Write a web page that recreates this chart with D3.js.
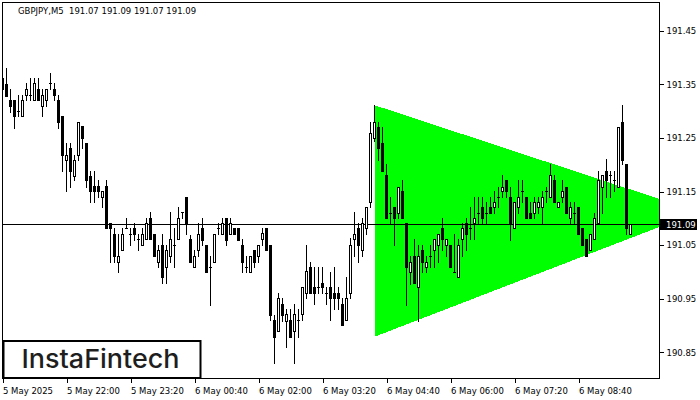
<!DOCTYPE html>
<html><head><meta charset="utf-8">
<script src="https://cdn.jsdelivr.net/npm/d3@7"></script>
<style>
html,body{margin:0;padding:0;background:#fff;}
svg{display:block;}
text{font-family:"DejaVu Sans",sans-serif;}
</style></head><body>
<script>
const symbolLabel = "GBPJPY,M5";
const ohlcLabel = ["191.07","191.09","191.07","191.09"];
const opens = [191.361,191.351,191.321,191.321,191.300,191.290,191.330,191.330,191.321,191.341,
191.310,191.321,191.352,191.341,191.321,191.290,191.209,191.231,191.179,191.219,
191.272,191.240,191.179,191.160,191.160,191.140,191.160,191.091,191.071,191.019,
191.041,191.081,191.071,191.081,191.061,191.050,191.061,191.100,191.071,191.019,
191.050,191.010,191.030,191.050,191.061,191.111,191.140,191.061,191.010,191.041,
191.081,191.050,191.010,191.019,191.081,191.071,191.100,191.071,191.081,191.081,
191.050,191.010,191.000,191.041,191.030,191.061,191.081,191.050,190.910,190.890,
190.940,190.908,190.910,190.890,190.910,190.921,190.960,191.010,190.971,190.971,
190.980,190.960,190.971,190.960,190.960,190.940,190.910,190.960,191.061,191.081,
191.041,191.081,191.130,191.250,191.270,191.240,191.181,191.110,191.121,191.110,
191.150,191.091,191.000,191.030,190.971,191.041,191.010,191.030,191.041,191.050,
191.081,191.050,191.050,191.000,190.990,191.061,191.091,191.081,191.091,191.110,
191.121,191.110,191.121,191.121,191.140,191.150,191.171,191.140,191.081,191.121,
191.150,191.140,191.110,191.110,191.121,191.121,191.150,191.140,191.171,191.121,
191.140,191.159,191.100,191.110,191.121,191.081,191.061,191.041,191.061,191.091,
191.159,191.189,191.181,191.171,191.159,191.280,191.201,191.070];
const highs = [191.371,191.380,191.341,191.321,191.330,191.330,191.352,191.361,191.361,191.361,
191.341,191.341,191.371,191.352,191.330,191.290,191.240,191.240,191.219,191.280,
191.272,191.240,191.189,191.189,191.171,191.150,191.171,191.091,191.081,191.071,
191.081,191.100,191.081,191.091,191.071,191.081,191.100,191.111,191.071,191.050,
191.071,191.050,191.111,191.081,191.121,191.111,191.140,191.069,191.041,191.091,
191.100,191.050,191.030,191.071,191.091,191.100,191.100,191.100,191.081,191.081,
191.061,191.030,191.030,191.041,191.050,191.081,191.081,191.050,190.920,190.960,
190.951,190.931,190.931,190.940,190.931,190.971,191.050,191.019,191.010,191.010,
191.010,190.971,191.000,191.010,190.971,190.951,190.990,191.063,191.112,191.091,
191.100,191.121,191.280,191.311,191.280,191.270,191.201,191.140,191.121,191.159,
191.171,191.091,191.030,191.061,191.050,191.050,191.030,191.050,191.061,191.071,
191.100,191.061,191.050,191.071,191.061,191.091,191.100,191.121,191.140,191.140,
191.140,191.130,191.140,191.150,191.159,191.181,191.171,191.159,191.130,191.171,
191.171,191.140,191.130,191.140,191.140,191.150,191.159,191.201,191.181,191.130,
191.171,191.159,191.130,191.130,191.121,191.081,191.061,191.071,191.110,191.189,
191.181,191.210,191.189,191.189,191.270,191.311,191.201,191.090];
const lows = [191.340,191.328,191.299,191.269,191.290,191.290,191.321,191.321,191.321,191.321,
191.290,191.310,191.341,191.321,191.269,191.189,191.150,191.159,191.171,191.209,
191.231,191.159,191.131,191.131,191.140,191.121,191.081,191.019,191.019,191.000,
191.041,191.081,191.050,191.060,191.041,191.050,191.061,191.061,191.030,191.010,
190.980,190.980,191.019,191.010,191.061,191.100,191.071,191.019,191.010,191.030,
191.050,191.000,190.938,191.019,191.071,191.071,191.050,191.071,191.071,191.060,
191.000,191.000,191.000,191.010,191.019,191.050,191.041,190.910,190.830,190.890,
190.908,190.860,190.879,190.830,190.879,190.910,190.951,190.960,190.940,190.960,
190.960,190.940,190.910,190.931,190.931,190.901,190.910,190.951,191.030,191.019,
191.030,191.071,191.121,191.245,191.209,191.189,191.100,191.091,191.050,191.100,
191.100,190.938,190.978,190.980,190.908,191.000,191.000,191.010,191.010,191.019,
191.041,191.030,191.010,191.000,190.990,191.030,191.041,191.061,191.061,191.091,
191.091,191.091,191.110,191.110,191.121,191.140,191.140,191.060,191.081,191.110,
191.130,191.100,191.100,191.100,191.110,191.091,191.130,191.140,191.130,191.121,
191.130,191.110,191.091,191.091,191.071,191.050,191.030,191.041,191.061,191.091,
191.110,191.140,191.140,191.150,191.159,191.201,191.071,191.070];
const closes = [191.341,191.328,191.310,191.290,191.300,191.321,191.341,191.330,191.352,191.321,
191.330,191.341,191.352,191.330,191.280,191.219,191.219,191.189,191.209,191.280,
191.250,191.171,191.150,191.150,191.150,191.150,191.081,191.081,191.030,191.030,
191.071,191.081,191.071,191.071,191.061,191.071,191.091,191.061,191.030,191.041,
190.990,191.041,191.061,191.050,191.100,191.111,191.091,191.019,191.030,191.071,
191.060,191.000,191.010,191.071,191.081,191.091,191.060,191.091,191.071,191.060,
191.019,191.010,191.030,191.019,191.050,191.072,191.041,190.920,190.879,190.951,
190.920,190.921,190.879,190.921,190.910,190.971,191.001,190.960,190.960,190.971,
190.971,190.960,190.951,190.951,190.951,190.901,190.951,191.050,191.071,191.050,
191.091,191.121,191.260,191.280,191.231,191.189,191.100,191.110,191.100,191.159,
191.100,191.010,191.019,190.980,191.030,191.019,191.019,191.030,191.061,191.071,
191.061,191.061,191.010,191.000,191.050,191.081,191.071,191.081,191.100,191.110,
191.100,191.110,191.110,191.130,191.140,191.159,191.150,191.091,191.130,191.140,
191.150,191.100,191.100,191.130,191.130,191.140,191.150,191.181,191.130,191.130,
191.150,191.110,191.121,191.110,191.071,191.050,191.030,191.071,191.100,191.171,
191.181,191.171,191.181,191.171,191.270,191.209,191.081,191.090];
const xTickIndex = [0,16,32,48,64,80,96,112,128,144];
const xTickLabels = ["5 May 2025","5 May 22:00","5 May 23:20","6 May 00:40","6 May 02:00","6 May 03:20","6 May 04:40","6 May 06:00","6 May 07:20","6 May 08:40"];
const yTickValues = [190.85,190.95,191.05,191.15,191.25,191.35,191.45];
const triangleIdx = [93,93,174];
const trianglePrice = [191.311,190.879,191.112];
const lastPrice = 191.09;
const logoText = "InstaFintech";

const W = 700, H = 400;
const plot = {x0: 2.5, y0: 2.5, x1: 659.5, y1: 378.5};
const svg = d3.select("body").append("svg").attr("width", W).attr("height", H);
const x = d3.scaleLinear().domain([0, 1]).range([2.5, 6.5]);
const y = d3.scaleLinear().domain([190.85, 191.45]).range([352.3, 30.7]);

svg.append("rect").attr("width", W).attr("height", H).attr("fill", "#fff");
svg.append("defs").append("clipPath").attr("id", "pc").append("rect")
  .attr("x", 3).attr("y", 3).attr("width", plot.x1 - 3).attr("height", plot.y1 - 3);
const g = svg.append("g").attr("clip-path", "url(#pc)").attr("shape-rendering", "crispEdges");

// triangle
const triPts = triangleIdx.map((d, i) => [x(d), y(trianglePrice[i])]);
g.append("path").attr("d", d3.line()(triPts) + "Z").attr("fill", "#00ff00");

// bid line
const ly = Math.round(y(lastPrice)) + 0.5;
g.append("line").attr("x1", 3).attr("x2", plot.x1).attr("y1", ly).attr("y2", ly).attr("stroke", "#000");

// candles
const data = opens.map((o, i) => ({i, o, h: highs[i], l: lows[i], c: closes[i]}));
const cg = g.append("g");
data.forEach(d => {
  const xc = x(d.i);
  const yh = Math.round(y(d.h)), yl = Math.round(y(d.l));
  const yo = Math.round(y(d.o)), yc = Math.round(y(d.c));
  const top = Math.min(yo, yc), bot = Math.max(yo, yc);
  cg.append("rect").attr("x", xc - 0.5).attr("y", yh).attr("width", 1).attr("height", Math.max(1, yl - yh + 1)).attr("fill", "#000");
  if (bot - top < 1) {
    cg.append("rect").attr("x", xc - 1.5).attr("y", top).attr("width", 3).attr("height", 1).attr("fill", "#000");
  } else if (d.c < d.o) {
    cg.append("rect").attr("x", xc - 1.5).attr("y", top).attr("width", 3).attr("height", bot - top + 1).attr("fill", "#000");
  } else {
    cg.append("rect").attr("x", xc - 1).attr("y", top + 0.5).attr("width", 2).attr("height", bot - top).attr("fill", "#fff").attr("stroke", "#000").attr("stroke-width", 1);
  }
});

// frame
svg.append("rect").attr("x", plot.x0).attr("y", plot.y0).attr("width", plot.x1 - plot.x0).attr("height", plot.y1 - plot.y0)
  .attr("fill", "none").attr("stroke", "#000").attr("shape-rendering", "crispEdges");

// y axis
const yAxis = d3.axisRight(y).tickValues(yTickValues).tickFormat(d3.format(".2f")).tickSize(4).tickPadding(3);
const ya = svg.append("g").attr("transform", `translate(${plot.x1},0)`).call(yAxis);
ya.select(".domain").remove();
ya.selectAll("line").attr("stroke", "#000").attr("shape-rendering", "crispEdges");
ya.selectAll("text").attr("fill", "#000").style("font-family", "DejaVu Sans").style("font-size", "8.5px");

// x axis
const xAxis = d3.axisBottom(x).tickValues(xTickIndex).tickFormat((d, i) => xTickLabels[i]).tickSize(4).tickPadding(5);
const xa = svg.append("g").attr("transform", `translate(0,${plot.y1})`).call(xAxis);
xa.select(".domain").remove();
xa.selectAll("line").attr("stroke", "#000").attr("shape-rendering", "crispEdges");
xa.selectAll("text").attr("text-anchor", "start").attr("fill", "#000").style("font-family", "DejaVu Sans").style("font-size", "8.5px");

// price label
svg.append("rect").attr("x", 660).attr("y", ly - 5.5).attr("width", 37).attr("height", 11).attr("fill", "#000").attr("shape-rendering", "crispEdges");
svg.append("text").attr("x", 666).attr("y", ly + 3.5).attr("fill", "#fff").style("font-size", "8.5px").text(d3.format(".2f")(lastPrice));

// title
svg.append("text").attr("x", 18).attr("y", 13.5).attr("fill", "#000").style("font-size", "8.5px").style("white-space", "pre")
  .text(symbolLabel + "  " + ohlcLabel.join(" "));

// logo
svg.append("rect").attr("x", 3.5).attr("y", 341).attr("width", 197).attr("height", 37).attr("fill", "#fff").attr("stroke", "#000").attr("stroke-width", 2);
svg.append("text").attr("x", 21.5).attr("y", 368).attr("fill", "#1e1e1e")
  .attr("textLength", 158).attr("lengthAdjust", "spacingAndGlyphs")
  .style("font-family", "Inter, 'Open Sans', sans-serif").style("font-size", "26px").style("font-weight", "500")
  .text(logoText);
</script>
</body></html>
